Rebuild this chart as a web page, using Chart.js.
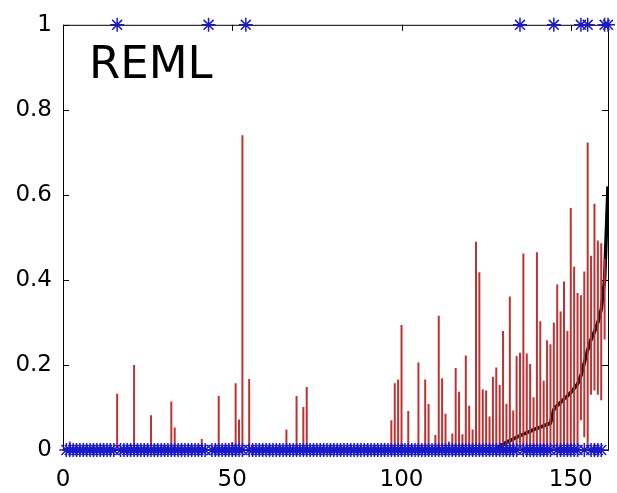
<!DOCTYPE html>
<html>
<head>
<meta charset="utf-8" />
<title>REML</title>
<script src="https://cdn.jsdelivr.net/npm/chart.js"></script>
<style>
  html, body { margin: 0; padding: 0; background: #fff; }
  canvas { display: block; }
</style>
</head>
<body>
<canvas id="remlChart" width="617" height="493"></canvas>
<script>
// indicator series: one star per index, at 1 for these indices, 0 elsewhere
const nPoints = 161;
const onesAt = [16, 43, 54, 135, 145, 153, 155, 160, 161];

// red intervals (low..high) per index
const stemX = [2, 16, 21, 26, 32, 33, 41, 46, 50, 51, 52, 53, 55, 66, 69, 71, 72,
  97, 98, 99, 100, 102, 105, 107, 108, 110,
  111, 112, 113, 114, 115, 116, 117, 118, 119, 120,
  121, 122, 123, 124, 125, 126, 127, 128, 129, 130,
  131, 132, 133, 134, 135, 136, 137, 138, 139, 140,
  141, 142, 143, 144, 145, 146, 147, 148, 149, 150,
  151, 152, 153, 154, 155, 156, 157, 158, 159, 160];
const stemHigh = [0.02, 0.132, 0.2, 0.082, 0.114, 0.053, 0.026, 0.127, 0.019, 0.157, 0.072, 0.74, 0.167, 0.048, 0.127, 0.101, 0.148,
  0.07, 0.157, 0.166, 0.294, 0.092, 0.206, 0.166, 0.108, 0.035,
  0.316, 0.169, 0.085, 0.02, 0.039, 0.193, 0.137, 0.037, 0.222, 0.104,
  0.048, 0.49, 0.418, 0.142, 0.14, 0.079, 0.172, 0.194, 0.153, 0.28,
  0.109, 0.361, 0.093, 0.221, 0.229, 0.462, 0.227, 0.202, 0.124, 0.465,
  0.303, 0.163, 0.258, 0.249, 0.299, 0.389, 0.326, 0.396, 0.28, 0.569,
  0.431, 0.369, 0.364, 0.42, 0.723, 0.457, 0.579, 0.493, 0.486, 0.45];
const stemLow = [0, 0, 0, 0, 0, 0, 0, 0, 0, 0, 0, 0, 0, 0, 0, 0, 0,
  0, 0, 0, 0, 0, 0, 0, 0, 0,
  0, 0, 0, 0, 0, 0, 0, 0, 0, 0,
  0, 0, 0, 0, 0, 0, 0, 0, 0, 0,
  0, 0, 0, 0, 0, 0, 0, 0, 0, 0,
  0, 0, 0, 0, 0, 0, 0, 0, 0, 0,
  0, 0, 0.07, 0.03, 0, 0.13, 0.14, 0.13, 0.117, 0.26];

// sorted estimate (black curve)
const curveX = [128, 129, 130, 131, 132, 133, 134, 135, 136, 137, 138, 139, 140, 141, 142, 143, 144,
  145, 146, 147, 148, 149, 150, 151, 152, 153, 154, 155, 156, 157, 158, 159, 160, 161];
const curveY = [0, 0.008, 0.014, 0.018, 0.022, 0.026, 0.03, 0.034, 0.037, 0.041, 0.044, 0.048, 0.051, 0.054, 0.057, 0.06, 0.063,
  0.095, 0.105, 0.112, 0.12, 0.127, 0.135, 0.145, 0.155, 0.175, 0.205, 0.235, 0.26, 0.278, 0.3, 0.33, 0.4, 0.62];

const xTicks = [0, 50, 100, 150];
const yTicks = [0, 0.2, 0.4, 0.6, 0.8, 1];
const label = 'REML';

const stars = [];
for (let i = 1; i <= nPoints; i++) stars.push({ x: i, y: onesAt.includes(i) ? 1 : 0 });
// each interval is a two-point segment, separated by a gap
const stems = [];
stemX.forEach((x, i) => {
  stems.push({ x, y: stemLow[i] }, { x, y: stemHigh[i] }, { x, y: null });
});
const curve = curveX.map((x, i) => ({ x, y: curveY[i] }));

const tickFont = { family: 'DejaVu Sans', size: 23 };

const boxPlugin = {
  id: 'box',
  beforeDatasetsDraw(chart) {
    const { ctx, chartArea: a, scales } = chart;
    ctx.save();
    ctx.strokeStyle = '#000';
    ctx.lineWidth = 1;
    ctx.strokeRect(a.left + 0.5, a.top + 0.5, a.right - a.left, a.bottom - a.top);
    ctx.beginPath();
    xTicks.forEach(v => {
      const px = Math.round(scales.x.getPixelForValue(v)) + 0.5;
      ctx.moveTo(px, a.bottom); ctx.lineTo(px, a.bottom - 6);
      ctx.moveTo(px, a.top); ctx.lineTo(px, a.top + 6);
    });
    yTicks.forEach(v => {
      const py = Math.round(scales.y.getPixelForValue(v)) + 0.5;
      ctx.moveTo(a.left, py); ctx.lineTo(a.left + 6, py);
      ctx.moveTo(a.right, py); ctx.lineTo(a.right - 6, py);
    });
    ctx.stroke();
    ctx.restore();
  },
  afterDraw(chart) {
    const { ctx } = chart;
    ctx.save();
    ctx.fillStyle = '#000';
    ctx.font = '45px "DejaVu Sans"';
    ctx.textBaseline = 'alphabetic';
    ctx.fillText(label, 89, 78);
    ctx.restore();
  }
};

new Chart(document.getElementById('remlChart'), {
  type: 'scatter',
  data: {
    datasets: [
      {
        data: stars,
        showLine: false,
        pointStyle: 'star',
        pointRadius: 7,
        pointBorderWidth: 1.5,
        pointBorderColor: 'rgb(25,25,205)',
        pointBackgroundColor: 'rgb(25,25,205)',
        clip: false,
        order: 0
      },
      {
        data: stems,
        showLine: true,
        spanGaps: false,
        borderColor: 'rgb(190,50,50)',
        borderWidth: 2,
        pointRadius: 0,
        order: 1
      },
      {
        data: curve,
        showLine: true,
        borderColor: '#000',
        borderWidth: 3.5,
        pointRadius: 0,
        tension: 0,
        order: 2
      }
    ]
  },
  options: {
    responsive: false,
    devicePixelRatio: 1,
    animation: false,
    layout: { padding: { left: 0, top: 21, right: 9, bottom: 0 } },
    plugins: { legend: { display: false }, tooltip: { enabled: false } },
    scales: {
      x: {
        type: 'linear',
        min: 0,
        max: 161,
        afterBuildTicks: s => { s.ticks = xTicks.map(v => ({ value: v })); },
        afterFit: s => { s.height = 43; },
        grid: { display: false, drawTicks: false },
        border: { display: false },
        ticks: { font: tickFont, color: '#000', padding: 16, maxRotation: 0, autoSkip: false }
      },
      y: {
        type: 'linear',
        min: 0,
        max: 1,
        afterBuildTicks: s => { s.ticks = yTicks.map(v => ({ value: v })); },
        afterFit: s => { s.width = 63; },
        grid: { display: false, drawTicks: false },
        border: { display: false },
        ticks: { font: tickFont, color: '#000', padding: 11, callback: v => String(v) }
      }
    }
  },
  plugins: [boxPlugin]
});
</script>
</body>
</html>
